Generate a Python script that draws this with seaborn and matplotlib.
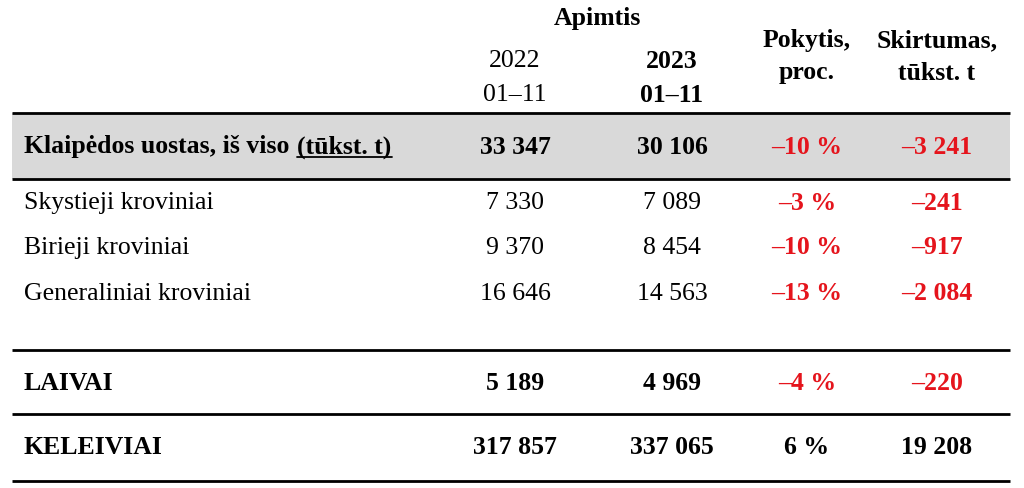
import matplotlib
matplotlib.use('Agg')
import matplotlib.pyplot as plt
import seaborn as sns

# table data
rows = ['Klaipėdos uostas, iš viso', 'Skystieji kroviniai', 'Birieji kroviniai',
        'Generaliniai kroviniai', 'LAIVAI', 'KELEIVIAI']
v2022 = ['33 347', '7 330', '9 370', '16 646', '5 189', '317 857']
v2023 = ['30 106', '7 089', '8 454', '14 563', '4 969', '337 065']
pokytis = ['–10 %', '–3 %', '–10 %', '–13 %', '–4 %', '6 %']
skirtumas = ['–3 241', '–241', '–917', '–2 084', '–220', '19 208']
bold_rows = [True, False, False, False, True, True]

sns.set_theme(style='white')
plt.rcParams['text.color'] = 'black'

fig = plt.figure(figsize=(10.24, 4.89), dpi=100)
ax = fig.add_axes([0, 0, 1, 1])
ax.set_xlim(0, 1024)
ax.set_ylim(489, 0)
ax.axis('off')

FONT = 'Liberation Serif'
fs = 18.5
red = '#e5141c'
col_x = [515, 672, 807, 937]
row_y = [147, 203, 248, 294, 384, 448]


def cell(x, y, s, bold=False, color='black', ha='center'):
    return ax.text(x, y, s, ha=ha, va='center', fontsize=fs, family=FONT,
                   fontweight='bold' if bold else 'normal', color=color)


# header
cell(597, 19, 'Apimtis', bold=True)
cell(col_x[0], 61, '2022')
cell(col_x[0], 95, '01–11')
cell(col_x[1], 61, '2023', bold=True)
cell(col_x[1], 95, '01–11', bold=True)
cell(col_x[2], 41, 'Pokytis,', bold=True)
cell(col_x[2], 73, 'proc.', bold=True)
cell(col_x[3], 41, 'Skirtumas,', bold=True)
cell(col_x[3], 73, 'tūkst. t', bold=True)

# gray band and rules
ax.fill_between([12, 1010], 114, 180, color='#d9d9d9', lw=0, zorder=0)
for y in [114, 180, 351, 415, 482]:
    ax.plot([12, 1010], [y, y], color='black', lw=2, solid_capstyle='butt')

fig.canvas.draw()
renderer = fig.canvas.get_renderer()
inv = ax.transData.inverted()

for i, lab in enumerate(rows):
    b = bold_rows[i]
    t = cell(24, row_y[i], lab, bold=b, ha='left')
    if i == 0:
        bb = t.get_window_extent(renderer)
        x0 = inv.transform((bb.x1, 0))[0]
        u = cell(x0 + 8, row_y[i], '(tūkst. t)', bold=True, ha='left')
        ub = u.get_window_extent(renderer)
        ux0 = inv.transform((ub.x0, 0))[0]
        ux1 = inv.transform((ub.x1, 0))[0]
        ax.plot([ux0, ux1], [row_y[i] + 11, row_y[i] + 11], color='black', lw=1.3)
    cell(col_x[0], row_y[i], v2022[i], bold=b)
    cell(col_x[1], row_y[i], v2023[i], bold=b)
    cell(col_x[2], row_y[i], pokytis[i], bold=True,
         color=red if pokytis[i].startswith('–') else 'black')
    cell(col_x[3], row_y[i], skirtumas[i], bold=True,
         color=red if skirtumas[i].startswith('–') else 'black')

fig.savefig('out.png', dpi=100)
